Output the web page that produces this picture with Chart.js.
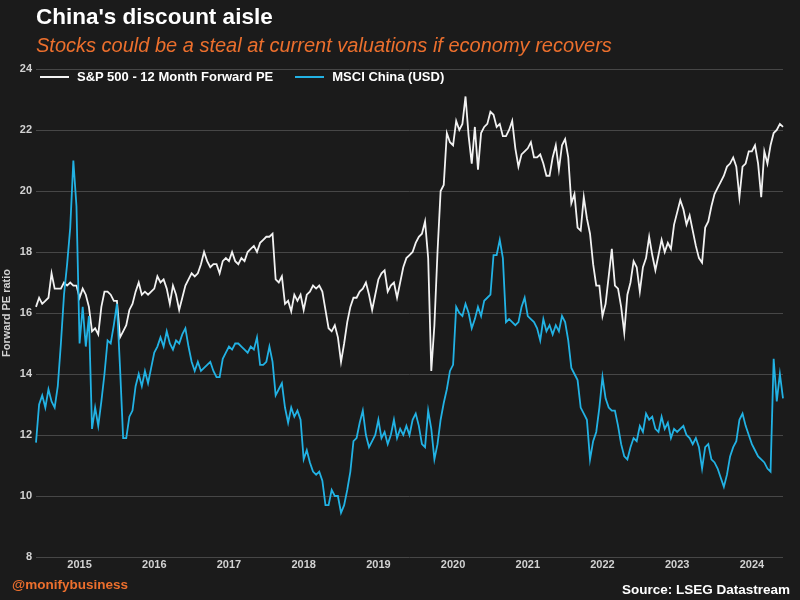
<!DOCTYPE html>
<html>
<head>
<meta charset="utf-8">
<script src="https://cdn.jsdelivr.net/npm/chart.js@4.4.1/dist/chart.umd.min.js"></script>
<style>
  html, body { margin: 0; padding: 0; background: #1b1b1b; }
  #wrap { position: relative; width: 800px; height: 600px; background: #1b1b1b; font-family: 'Liberation Sans', Arial, sans-serif; overflow: hidden; }
  #chart { position: absolute; left: 0; top: 0; }
  #title { position: absolute; left: 36px; top: 4px; color: #fff; font-weight: bold; font-size: 22.5px; }
  #subtitle { position: absolute; left: 36px; top: 34px; color: #ec6f2d; font-style: italic; font-size: 20px; }
  #legend { position: absolute; left: 40px; top: 69px; display: flex; color: #fff; font-weight: bold; font-size: 13px; }
  #legend .item { display: flex; align-items: center; margin-right: 22px; }
  #legend .swatch { width: 29px; height: 2px; margin-right: 8px; }
  #handle { position: absolute; left: 12px; top: 577px; color: #ec6f2d; font-weight: bold; font-size: 13.5px; }
  #source { position: absolute; right: 10px; top: 582px; color: #fff; font-weight: bold; font-size: 13.5px; }
</style>
</head>
<body>
<div id="wrap">
  <canvas id="chart" width="800" height="600"></canvas>
  <div id="title">China's discount aisle</div>
  <div id="subtitle">Stocks could be a steal at current valuations if economy recovers</div>
  <div id="legend"></div>
  <div id="handle">@monifybusiness</div>
  <div id="source">Source: LSEG Datastream</div>
</div>
<script>
// dados: duas leituras por mês, de dez/2014 a dez/2024
const startYear = 2014;
const startMonth = 11; // dezembro (0 = janeiro)

const spxPE = [
  16.2, 16.5, 16.3, 16.4, 16.5, 17.3, 16.8, 16.8, 16.8, 17.0,
  16.9, 17.0, 16.9, 16.9, 16.5, 16.8, 16.6, 16.2, 15.4, 15.5,
  15.3, 16.2, 16.7, 16.7, 16.6, 16.4, 16.4, 15.2, 15.4, 15.6,
  16.1, 16.3, 16.7, 17.0, 16.6, 16.7, 16.6, 16.7, 16.8, 17.2,
  17.0, 17.1, 16.8, 16.3, 16.9, 16.6, 16.1, 16.5, 16.9, 17.1,
  17.3, 17.2, 17.3, 17.6, 18.0, 17.7, 17.5, 17.6, 17.6, 17.3,
  17.7, 17.8, 17.7, 18.0, 17.7, 17.6, 17.8, 17.7, 18.0, 18.1,
  18.2, 18.0, 18.3, 18.4, 18.5, 18.5, 18.6, 17.1, 17.0, 17.2,
  16.3, 16.4, 16.05, 16.6, 16.4, 16.6, 16.1, 16.6, 16.7, 16.9,
  16.8, 16.9, 16.7, 16.1, 15.5, 15.4, 15.6, 15.2, 14.4, 15.0,
  15.7, 16.2, 16.5, 16.5, 16.7, 16.8, 17.0, 16.6, 16.1, 16.6,
  17.1, 17.3, 17.4, 16.7, 16.9, 17.0, 16.5, 17.0, 17.5, 17.8,
  17.9, 18.0, 18.3, 18.5, 18.6, 19.0, 17.8, 14.1, 15.6, 18.0,
  20.0, 20.2, 21.9, 21.6, 21.5, 22.3, 22.0, 22.2, 23.1, 21.8,
  20.9, 22.1, 20.7, 21.9, 22.1, 22.2, 22.6, 22.5, 22.1, 22.2,
  21.8, 21.8, 22.0, 22.3, 21.4, 20.8, 21.2, 21.3, 21.4, 21.6,
  21.1, 21.1, 21.2, 20.9, 20.5, 20.5, 21.1, 21.5, 20.7, 21.5,
  21.7, 21.1, 19.6, 19.9, 18.8, 18.7, 19.8, 19.1, 18.6, 17.6,
  16.9, 16.9, 15.9, 16.3, 17.2, 18.1, 16.9, 16.8, 16.2, 15.35,
  16.6, 17.0, 17.7, 17.5, 16.7, 17.5, 17.8, 18.5, 17.9, 17.4,
  17.9, 18.4, 18.0, 18.3, 18.1, 18.9, 19.3, 19.7, 19.4, 18.9,
  19.2, 18.7, 18.2, 17.8, 17.65, 18.8, 19.0, 19.5, 19.9, 20.1,
  20.3, 20.5, 20.8, 20.9, 21.1, 20.8, 19.8, 20.8, 20.9, 21.3,
  21.3, 21.5, 20.9, 19.8, 21.3, 20.9, 21.5, 21.9, 22.0, 22.2, 22.1
];

const chinaPE = [
  11.75, 13.0, 13.3, 12.9, 13.5, 13.1, 12.9, 13.6, 15.0, 16.6,
  17.6, 18.8, 21.0, 19.5, 15.0, 16.2, 14.9, 15.9, 12.2, 12.9,
  12.3, 13.1, 14.0, 15.1, 15.0, 15.6, 16.3, 14.2, 11.9, 11.9,
  12.6, 12.8, 13.6, 14.0, 13.6, 14.1, 13.7, 14.2, 14.7, 14.9,
  15.2, 14.9, 15.4, 15.0, 14.8, 15.1, 15.0, 15.3, 15.5, 14.9,
  14.4, 14.1, 14.4, 14.1, 14.2, 14.3, 14.4, 14.1, 13.9, 13.9,
  14.5, 14.7, 14.9, 14.8, 15.0, 15.0, 14.9, 14.8, 14.7, 14.9,
  14.8, 15.2, 14.3, 14.3, 14.4, 14.9, 14.4, 13.3, 13.5, 13.7,
  12.9, 12.4, 12.9, 12.6, 12.8, 12.5, 11.2, 11.5, 11.1, 10.8,
  10.7, 10.8, 10.5, 9.7, 9.7, 10.2, 10.0, 10.0, 9.45, 9.7,
  10.2, 10.8, 11.8, 11.9, 12.4, 12.8, 12.0, 11.6, 11.8, 12.0,
  12.5, 11.9, 12.1, 11.7, 12.0, 12.5, 11.9, 12.2, 12.0, 12.3,
  12.0, 12.5, 12.7, 12.3, 11.7, 11.6, 12.8, 12.2, 11.2, 11.7,
  12.5, 13.05, 13.5, 14.1, 14.3, 16.2, 16.0, 15.9, 16.3, 16.0,
  15.5, 15.8, 16.2, 15.9, 16.4, 16.5, 16.6, 17.9, 17.9, 18.4,
  17.8, 15.7, 15.8, 15.7, 15.6, 15.7, 16.2, 16.5, 15.9, 15.8,
  15.7, 15.5, 15.1, 15.8, 15.4, 15.6, 15.3, 15.6, 15.4, 15.9,
  15.7, 15.1, 14.2, 14.0, 13.8, 12.9, 12.7, 12.5, 11.2, 11.8,
  12.1, 12.9, 13.9, 13.2, 12.9, 12.8, 12.8, 12.3, 11.7, 11.3,
  11.2, 11.6, 11.9, 11.8, 12.3, 12.1, 12.7, 12.5, 12.6, 12.2,
  12.1, 12.6, 12.2, 12.4, 11.9, 12.2, 12.1, 12.2, 12.3, 12.0,
  11.9, 11.7, 11.9, 11.6, 10.9, 11.6, 11.7, 11.2, 11.1, 10.9,
  10.6, 10.3, 10.7, 11.3, 11.6, 11.8, 12.5, 12.7, 12.3, 12.0,
  11.7, 11.5, 11.3, 11.2, 11.1, 10.9, 10.8, 14.5, 13.1, 14.0, 13.2
];

const yTicks = [8, 10, 12, 14, 16, 18, 20, 22, 24];

// datas das leituras (dia 1 e dia 16 de cada mês)
const dates = [];
for (let i = 0; i < spxPE.length; i++) {
  const m = startMonth + Math.floor(i / 2);
  const y = startYear + Math.floor(m / 12);
  dates.push(y + '-' + String(m % 12 + 1).padStart(2, '0') + (i % 2 ? '-16' : '-01'));
}

const narrow = "'Liberation Sans Narrow', 'Arial Narrow', 'Liberation Sans', Arial, sans-serif";

const ctx = document.getElementById('chart').getContext('2d');
const chart = new Chart(ctx, {
  type: 'line',
  data: {
    labels: dates,
    datasets: [{
      label: 'S&P 500 - 12 Month Forward PE',
      data: spxPE,
      borderColor: '#f2f2f2',
      backgroundColor: '#f2f2f2',
      borderWidth: 1.8,
      pointRadius: 0,
      tension: 0,
      order: 2
    }, {
      label: 'MSCI China (USD)',
      data: chinaPE,
      borderColor: '#22b2e4',
      backgroundColor: '#22b2e4',
      borderWidth: 1.8,
      pointRadius: 0,
      tension: 0,
      order: 1
    }]
  },
  options: {
    responsive: false,
    animation: false,
    layout: { padding: { top: 69, right: 17, bottom: 12, left: 0 } },
    plugins: {
      legend: { display: false },
      tooltip: { enabled: false }
    },
    scales: {
      x: {
        grid: { display: false, drawTicks: false },
        border: { display: false },
        ticks: {
          autoSkip: false,
          maxRotation: 0,
          minRotation: 0,
          padding: 1,
          color: '#d2d2d2',
          font: { family: narrow, size: 11, weight: 'bold' },
          callback: function (value) {
            const lab = this.getLabelForValue(value);
            return lab.endsWith('-07-01') ? lab.slice(0, 4) : '';
          }
        },
        afterFit: function (scale) { scale.height = 31; }
      },
      y: {
        min: 8,
        max: 24,
        afterBuildTicks: function (scale) {
          scale.ticks = yTicks.map(v => ({ value: v }));
        },
        grid: { color: '#474747', lineWidth: 1, drawTicks: false },
        border: { display: false },
        ticks: {
          padding: 4,
          color: '#d2d2d2',
          font: { family: narrow, size: 11, weight: 'bold' }
        },
        title: {
          display: true,
          text: 'Forward PE ratio',
          color: '#d2d2d2',
          font: { family: narrow, size: 11, weight: 'bold' },
          padding: { top: 0, bottom: 0 }
        },
        afterFit: function (scale) { scale.width = 36; }
      }
    }
  }
});

// legenda em HTML, na ordem das séries
const legend = document.getElementById('legend');
chart.data.datasets.forEach(function (ds) {
  const item = document.createElement('div');
  item.className = 'item';
  const sw = document.createElement('span');
  sw.className = 'swatch';
  sw.style.background = ds.borderColor;
  const txt = document.createElement('span');
  txt.textContent = ds.label;
  item.appendChild(sw);
  item.appendChild(txt);
  legend.appendChild(item);
});
</script>
</body>
</html>
